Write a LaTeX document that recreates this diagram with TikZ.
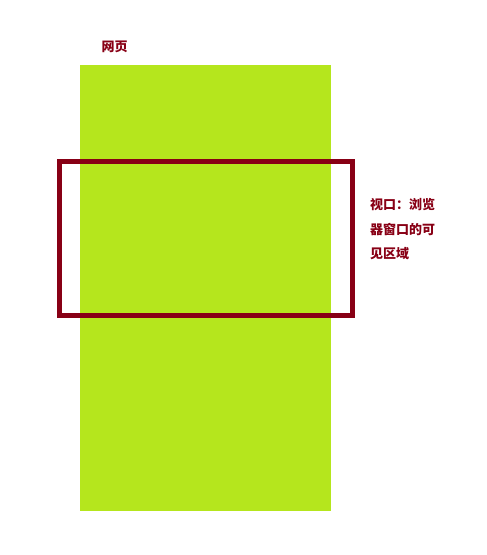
\documentclass[tikz,border=0pt]{standalone}
\usepackage{fontspec}
\newfontfamily\cjk{Noto Sans CJK SC}
\definecolor{pagegreen}{HTML}{B5E61D}
\definecolor{portred}{HTML}{880015}
\begin{document}
\begin{tikzpicture}[x=1pt, y=-1pt,
    label text/.style={text=portred, inner sep=0pt, font=\cjk\bfseries\fontsize{13}{24.5}\selectfont}]
    \useasboundingbox (0, 0) rectangle (487, 555);

    % Page
    \fill[pagegreen] (80, 65) rectangle (331, 511);
    \node[label text] (page) at (114.5, 47) {网页};

    % Viewport
    \draw[portred, line width=5pt] (59.5, 161.5) rectangle (352.5, 315.5);
    \node[label text, anchor=west, align=left] (viewport) at (370, 229.5) {视口：浏览\\器窗口的可\\见区域};
\end{tikzpicture}
\end{document}
